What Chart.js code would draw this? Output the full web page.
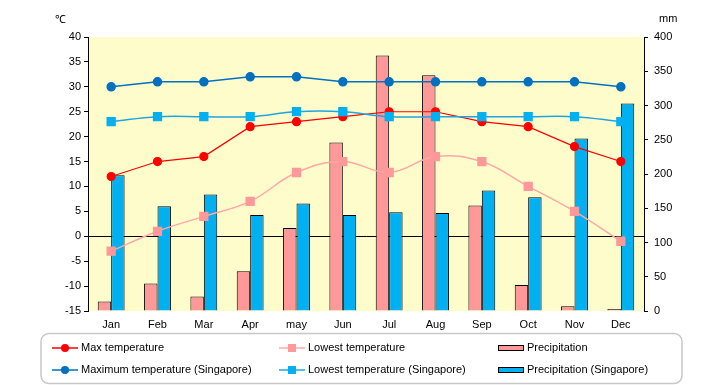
<!DOCTYPE html>
<html>
<head>
<meta charset="utf-8">
<script src="https://cdn.jsdelivr.net/npm/chart.js@4/dist/chart.umd.min.js"></script>
<style>
html,body{margin:0;padding:0;background:#fff;}
#wrap{position:relative;width:720px;height:385px;}
</style>
</head>
<body>
<div id="wrap"><canvas id="c" width="720" height="385"></canvas></div>
<script>
const months = ["Jan","Feb","Mar","Apr","may","Jun","Jul","Aug","Sep","Oct","Nov","Dec"];
const maxTemp = [12,15,16,22,23,24,25,25,23,22,18,15];
const lowTemp = [-3,1,4,7,12.8,15,12.8,16,15,10,5,-1];
const precip = [14,40,21,58,121,246,373,344,154,38,7,3];
const maxTempSg = [30,31,31,32,32,31,31,31,31,31,31,30];
const lowTempSg = [23,24,24,24,25,25,24,24,24,24,24,23];
const precipSg = [198,153,170,140,157,140,144,143,176,166,252,303];
const tempTicks = {min:-15,max:40,step:5};
const rainTicks = {min:0,max:400,step:50};
const legendLabels = ["Max temperature","Lowest temperature","Precipitation","Maximum temperature (Singapore)","Lowest temperature (Singapore)","Precipitation (Singapore)"];

const FONT = "'Liberation Sans', Arial, sans-serif";
Chart.defaults.font.family = FONT;
Chart.defaults.font.size = 11;
Chart.defaults.color = '#000';

const bgPlugin = {
  id:'bg',
  beforeDraw(chart){
    const {ctx, chartArea:a} = chart;
    ctx.save();
    ctx.fillStyle = '#FFFCCB';
    ctx.fillRect(a.left, a.top, a.right-a.left, a.bottom-a.top);
    ctx.restore();
  },
  afterDraw(chart){
    const ctx = chart.ctx;
    ctx.save();
    ctx.font = '11px ' + FONT;
    ctx.fillStyle = '#000';
    ctx.textBaseline = 'middle';
    ctx.textAlign = 'left';
    ctx.fillText('\u2103', 55, 20);
    ctx.fillText('mm', 659, 19);
    // legend box
    ctx.strokeStyle = '#C8C8C8';
    ctx.lineWidth = 1.5;
    ctx.beginPath();
    ctx.roundRect(41, 333.5, 641, 50, 8);
    ctx.stroke();
    const rows = [348, 370];
    const ds = chart.data.datasets;
    // find by label order in legendLabels
    const byLabel = l => ds.find(d => d.label === l);
    const cols = [
      {x0:52, x1:78, tx:81},
      {x0:279, x1:305, tx:308},
      {x0:498, x1:524, tx:527}
    ];
    legendLabels.forEach((lab, i) => {
      const r = Math.floor(i/3), c = i%3;
      const y = rows[r], col = cols[c];
      const d = byLabel(lab);
      if (d.type === 'bar') {
        ctx.fillStyle = d.backgroundColor;
        ctx.fillRect(col.x0, y-3, col.x1-col.x0, 6);
        ctx.strokeStyle = '#000';
        ctx.lineWidth = 1;
        ctx.strokeRect(col.x0+0.5, y-2.5, col.x1-col.x0-1, 5);
      } else {
        ctx.strokeStyle = d.borderColor;
        ctx.lineWidth = 1.5;
        ctx.beginPath();
        ctx.moveTo(col.x0, y); ctx.lineTo(col.x1, y); ctx.stroke();
        ctx.fillStyle = d.pointBackgroundColor;
        const cx = (col.x0+col.x1)/2;
        if (d.pointStyle === 'rect') {
          ctx.fillRect(cx-4, y-4, 8, 8);
        } else {
          ctx.beginPath(); ctx.arc(cx, y, 4, 0, Math.PI*2); ctx.fill();
        }
      }
      ctx.fillStyle = '#000';
      ctx.fillText(lab, col.tx, y);
    });
    ctx.restore();
  }
};

new Chart(document.getElementById('c'), {
  data: {
    labels: months,
    datasets: [
      {type:'bar', label:legendLabels[2], data:precip, yAxisID:'y2', backgroundColor:'#FF9999', borderColor:'#000', borderWidth:1, order:2, barPercentage:1, categoryPercentage:0.58},
      {type:'bar', label:legendLabels[5], data:precipSg, yAxisID:'y2', backgroundColor:'#00B0F0', borderColor:'#000', borderWidth:1, order:2, barPercentage:1, categoryPercentage:0.58},
      {type:'line', label:legendLabels[1], data:lowTemp, yAxisID:'y', borderColor:'#FFA8A8', backgroundColor:'#FF9999', pointBackgroundColor:'#FF9999', pointBorderColor:'#FF9999', pointStyle:'rect', pointRadius:5.5, borderWidth:1.5, tension:0.4, order:1},
      {type:'line', label:legendLabels[4], data:lowTempSg, yAxisID:'y', borderColor:'#20A4E4', backgroundColor:'#00B0F0', pointBackgroundColor:'#00B0F0', pointBorderColor:'#00B0F0', pointStyle:'rect', pointRadius:5.5, borderWidth:1.5, tension:0.4, order:1},
      {type:'line', label:legendLabels[3], data:maxTempSg, yAxisID:'y', borderColor:'#0070C0', backgroundColor:'#0070C0', pointBackgroundColor:'#0070C0', pointBorderColor:'#0070C0', pointStyle:'circle', pointRadius:4, borderWidth:1.5, tension:0, order:1},
      {type:'line', label:legendLabels[0], data:maxTemp, yAxisID:'y', borderColor:'#FF0000', backgroundColor:'#FF0000', pointBackgroundColor:'#FF0000', pointBorderColor:'#FF0000', pointStyle:'circle', pointRadius:4, borderWidth:1.2, tension:0, order:1}
    ]
  },
  options: {
    responsive:false,
    animation:false,
    layout:{padding:{top:37, bottom:50, left:0, right:0}},
    plugins:{legend:{display:false}, tooltip:{enabled:false}},
    scales:{
      x:{
        offset:true,
        grid:{display:false, drawTicks:false},
        border:{display:false},
        ticks:{padding:7, maxRotation:0, autoSkip:false},
        afterFit(s){ s.height = 24; }
      },
      y:{
        position:'left',
        min:tempTicks.min, max:tempTicks.max,
        ticks:{stepSize:tempTicks.step, padding:3},
        grid:{color:ctx => (ctx.tick && ctx.tick.value === 0) ? '#000' : 'rgba(0,0,0,0)', lineWidth:1, tickColor:'#000', tickLength:4, drawTicks:true},
        border:{display:true, color:'#000', width:1},
        afterFit(s){ s.width = 88; }
      },
      y2:{
        position:'right',
        min:rainTicks.min, max:rainTicks.max,
        ticks:{stepSize:rainTicks.step, padding:6},
        grid:{drawOnChartArea:false, tickColor:'#000', tickLength:4},
        border:{display:true, color:'#000', width:1},
        afterFit(s){ s.width = 76; }
      }
    }
  },
  plugins:[bgPlugin]
});
</script>
</body>
</html>
